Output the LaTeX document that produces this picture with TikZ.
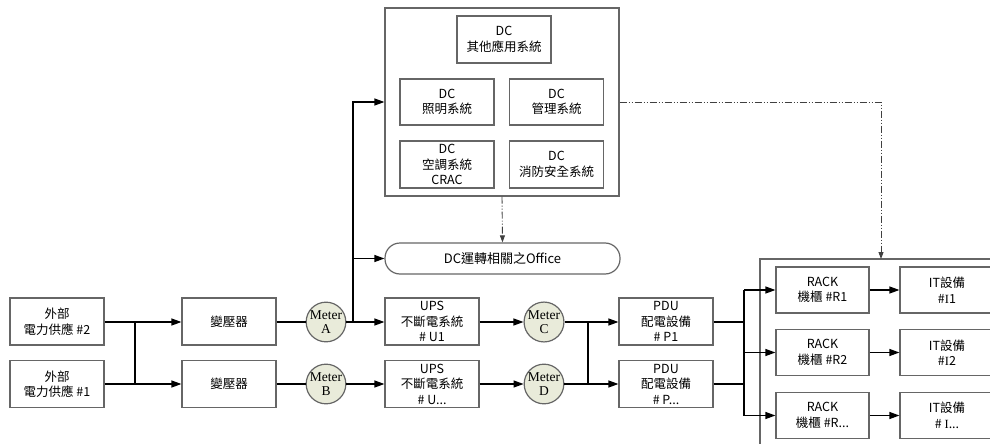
\documentclass[tikz,border=0pt]{standalone}
\usepackage{fontspec}
\setmainfont{Noto Sans CJK TC}
\newfontfamily\meterfont{Liberation Serif}
\usetikzlibrary{arrows.meta,positioning}
\definecolor{boxgray}{HTML}{666666}
\definecolor{meterfill}{HTML}{E9EBDA}
\tikzset{
  blk/.style={draw=boxgray,line width=1.2pt,fill=white,minimum width=94pt,minimum height=47pt,inner sep=0pt,align=center,font=\fontsize{12.5}{15.5}\selectfont},
  meter/.style={circle,draw=boxgray,line width=1.2pt,fill=meterfill,minimum size=37pt,inner sep=0pt,align=center,font=\meterfont\fontsize{13.5}{14.5}\selectfont},
  conn/.style={line width=1.2pt,black},
  arr/.style={conn,-{Triangle[length=10pt,width=7pt]}},
  dd/.style={line width=0.9pt,color=black!75,dash pattern=on 7pt off 2pt on 1pt off 2pt on 1pt off 2pt,-{Triangle[length=7pt,width=5pt]}}
}
\begin{document}
\begin{tikzpicture}[x=1pt,y=-1pt]
\useasboundingbox (0,0) rectangle (990,444);
\clip (0,0) rectangle (990,444);
% container
\draw[draw=boxgray,line width=1.2pt] (1010,259) -- (760,259) -- (760,460);
% DC group
\node[blk,minimum width=234pt,minimum height=188pt] (dc) at (502,102) {};
\node[blk] (other) at (504,39.5) {DC\\其他應用系統};
\node[blk,minimum height=46pt] (light) at (447,102) {DC\\照明系統};
\node[blk,minimum height=46pt] (mgmt) at (556.5,102) {DC\\管理系統};
\node[blk] (ac) at (447,164.5) {DC\\空調系統\\CRAC};
\node[blk] (fire) at (556.5,164.5) {DC\\消防安全系統};
\node[blk,rounded corners=15pt,minimum width=235pt,minimum height=31pt,font=\fontsize{13}{15}\selectfont] (office) at (502.5,258.5) {DC運轉相關之Office};
% main chain
\node[blk] (ext2) at (57,321.5) {外部\\電力供應 \#2};
\node[blk] (ext1) at (57,384) {外部\\電力供應 \#1};
\node[blk] (tr1) at (229,321.5) {變壓器};
\node[blk] (tr2) at (229,384) {變壓器};
\node[meter] (mA) at (326,322) {Meter\\A};
\node[meter] (mB) at (326,384) {Meter\\B};
\node[blk] (ups1) at (432,321.5) {UPS\\不斷電系統\\\# U1};
\node[blk] (ups2) at (432,384) {UPS\\不斷電系統\\\# U...};
\node[meter] (mC) at (544,322) {Meter\\C};
\node[meter] (mD) at (544,384) {Meter\\D};
\node[blk] (pdu1) at (666,321.5) {PDU\\配電設備\\\# P1};
\node[blk] (pdu2) at (666,384) {PDU\\配電設備\\\# P...};
\node[blk,minimum width=93pt,minimum height=46pt] (r1) at (822.5,290) {RACK\\機櫃 \#R1};
\node[blk,minimum width=93pt,minimum height=46pt] (r2) at (822.5,352.5) {RACK\\機櫃 \#R2};
\node[blk,minimum width=93pt,minimum height=46pt] (r3) at (822.5,415.5) {RACK\\機櫃 \#R...};
\node[blk,minimum width=94pt,minimum height=46pt] (i1) at (947,290) {IT設備\\\#{\meterfont I}1};
\node[blk,minimum width=94pt,minimum height=46pt] (i2) at (947,352.5) {IT設備\\\#{\meterfont I}2};
\node[blk,minimum width=94pt,minimum height=46pt] (i3) at (947,415.5) {IT設備\\\# {\meterfont I}...};
% junctions
\coordinate (j1) at (135,322);
\coordinate (jA) at (353,322);
\coordinate (jC) at (588,322);
\coordinate (jP) at (744,322);
% connectors
\draw[arr] (ext2.east |- j1) -- (tr1.west |- j1);
\draw[arr] (ext1) -- (tr2);
\draw[conn] (j1) -- (j1 |- ext1);
\draw[conn] (tr1.east |- mA) -- (mA);
\draw[conn] (tr2) -- (mB);
\draw[arr] (mA) -- (ups1.west |- mA);
\draw[arr] (mB) -- (ups2);
\draw[arr] (jA) |- (dc.west);
\draw[arr] (jA |- office.west) -- (office.west);
\draw[arr] (ups1.east |- mC) -- (mC);
\draw[arr] (ups2) -- (mD);
\draw[arr] (mC) -- (pdu1.west |- mC);
\draw[arr] (mD) -- (pdu2);
\draw[conn] (jC) -- (jC |- mD);
\draw[conn] (pdu1.east |- jP) -- (jP);
\draw[conn] (pdu2.east) -- (jP |- pdu2.east);
\draw[conn] (jP |- r1) -- (jP |- r3);
\draw[arr] (jP |- r1) -- (r1);
\draw[arr] (jP |- r2) -- (r2);
\draw[arr] (jP |- r3) -- (r3);
\draw[arr] (r1) -- (i1);
\draw[arr] (r2) -- (i2);
\draw[arr] (r3) -- (i3);
% dash-dot links
\coordinate (cTop) at (881,259);
\draw[dd] (dc.south) -- (office.north);
\draw[dd] (dc.east) -| (cTop);
\end{tikzpicture}
\end{document}
